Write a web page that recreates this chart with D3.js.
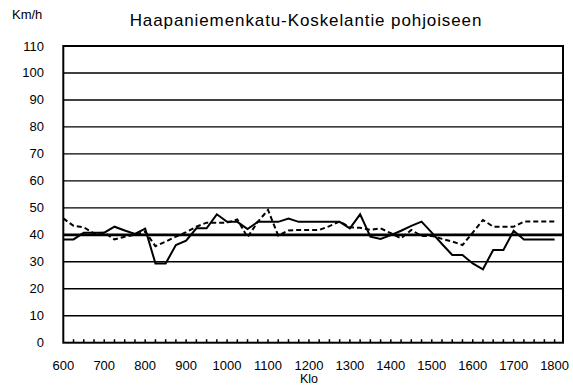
<!DOCTYPE html>
<html>
<head>
<meta charset="utf-8">
<script src="https://cdn.jsdelivr.net/npm/d3@7/dist/d3.min.js"></script>
<style>
  html, body { margin: 0; padding: 0; background: #fff; }
  svg { display: block; font-family: "Liberation Sans", Arial, sans-serif; }
</style>
</head>
<body>
<svg id="chart" width="573" height="387"></svg>
<script>
// Measurement times (every 15 minutes, 6:00–18:00)
const times = [
  "600","615","630","645","700","715","730","745","800","815","830","845",
  "900","915","930","945","1000","1015","1030","1045","1100","1115","1130","1145",
  "1200","1215","1230","1245","1300","1315","1330","1345","1400","1415","1430","1445",
  "1500","1515","1530","1545","1600","1615","1630","1645","1700","1715","1730","1745","1800"
];

// Average speeds, km/h
const speedSolid = [
  38.3, 38.3, 40.8, 40.8, 40.8, 43.0, 41.6, 40.3, 42.3, 29.4, 29.4, 36.2,
  37.8, 42.4, 42.4, 47.6, 44.8, 44.8, 42.1, 44.8, 44.8, 44.8, 46.0, 44.8,
  44.8, 44.8, 44.8, 44.8, 42.4, 47.6, 39.3, 38.5, 39.9, 41.5, 43.3, 44.9,
  40.8, 36.6, 32.5, 32.5, 29.4, 27.2, 34.4, 34.4, 41.5, 38.3, 38.3, 38.3, 38.3
];
const speedDashed = [
  46.1, 43.3, 42.8, 40.5, 40.8, 38.3, 39.3, 40.0, 41.2, 35.8, 37.5, 39.3,
  41.0, 43.0, 44.5, 44.5, 44.5, 45.7, 39.1, 44.8, 49.2, 39.7, 41.6, 41.8,
  41.8, 41.8, 43.2, 44.9, 42.8, 42.6, 41.8, 42.4, 40.6, 38.7, 41.8, 39.6,
  39.6, 38.5, 37.5, 36.2, 40.8, 45.5, 43.0, 43.0, 43.0, 44.9, 44.9, 44.9, 44.9
];
const speedLimit = 40;

const xTickLabels = ["600","700","800","900","1000","1100","1200","1300","1400","1500","1600","1700","1800"];
const yTicks = [0,10,20,30,40,50,60,70,80,90,100,110];

const svg = d3.select("#chart");
const plot = { left: 63.3, right: 563, top: 46, bottom: 342.7 };

const x = d3.scalePoint().domain(times).range([plot.left, 554.6]);
const y = d3.scaleLinear().domain([0, 110]).range([plot.bottom, plot.top]);

// Horizontal gridlines
svg.append("g").selectAll("line")
  .data(yTicks.filter(v => v > 0 && v < 110 && v !== speedLimit))
  .join("line")
  .attr("x1", plot.left).attr("x2", plot.right)
  .attr("y1", d => y(d)).attr("y2", d => y(d))
  .attr("stroke", "#000").attr("stroke-width", 1.4);

// Speed limit line
svg.append("line")
  .attr("x1", plot.left).attr("x2", plot.right)
  .attr("y1", y(speedLimit)).attr("y2", y(speedLimit))
  .attr("stroke", "#000").attr("stroke-width", 2.8);

// Plot frame
svg.append("rect")
  .attr("x", plot.left).attr("y", plot.top)
  .attr("width", plot.right - plot.left).attr("height", plot.bottom - plot.top)
  .attr("fill", "none").attr("stroke", "#000").attr("stroke-width", 2);

// Minor tick marks along the time axis
svg.append("g").selectAll("line")
  .data(times.slice(1))
  .join("line")
  .attr("x1", d => x(d)).attr("x2", d => x(d))
  .attr("y1", plot.bottom).attr("y2", plot.bottom - 3.5)
  .attr("stroke", "#000").attr("stroke-width", 1.5);

// Y axis labels
svg.append("g").selectAll("text")
  .data(yTicks)
  .join("text")
  .attr("x", 44).attr("y", d => y(d) + 4.5)
  .attr("text-anchor", "end")
  .attr("font-size", 13).attr("fill", "#000")
  .text(d => d);

// X axis labels
svg.append("g").selectAll("text")
  .data(xTickLabels)
  .join("text")
  .attr("x", d => x(d)).attr("y", 369.5)
  .attr("text-anchor", "middle")
  .attr("font-size", 13).attr("fill", "#000")
  .text(d => d);

// Series lines
const line = d3.line().x((d, i) => x(times[i])).y(d => y(d));

svg.append("path")
  .datum(speedDashed)
  .attr("d", line)
  .attr("fill", "none").attr("stroke", "#000").attr("stroke-width", 2)
  .attr("stroke-dasharray", "5,3");

svg.append("path")
  .datum(speedSolid)
  .attr("d", line)
  .attr("fill", "none").attr("stroke", "#000").attr("stroke-width", 2);

// Titles
svg.append("text")
  .attr("x", 306).attr("y", 26)
  .attr("text-anchor", "middle")
  .attr("font-size", 17).attr("letter-spacing", 0.9).attr("fill", "#000")
  .text("Haapaniemenkatu-Koskelantie pohjoiseen");

svg.append("text")
  .attr("x", 12).attr("y", 19)
  .attr("font-size", 13).attr("fill", "#000")
  .text("Km/h");

svg.append("text")
  .attr("x", 309).attr("y", 382.5)
  .attr("text-anchor", "middle")
  .attr("font-size", 12.5).attr("fill", "#000")
  .text("Klo");
</script>
</body>
</html>
